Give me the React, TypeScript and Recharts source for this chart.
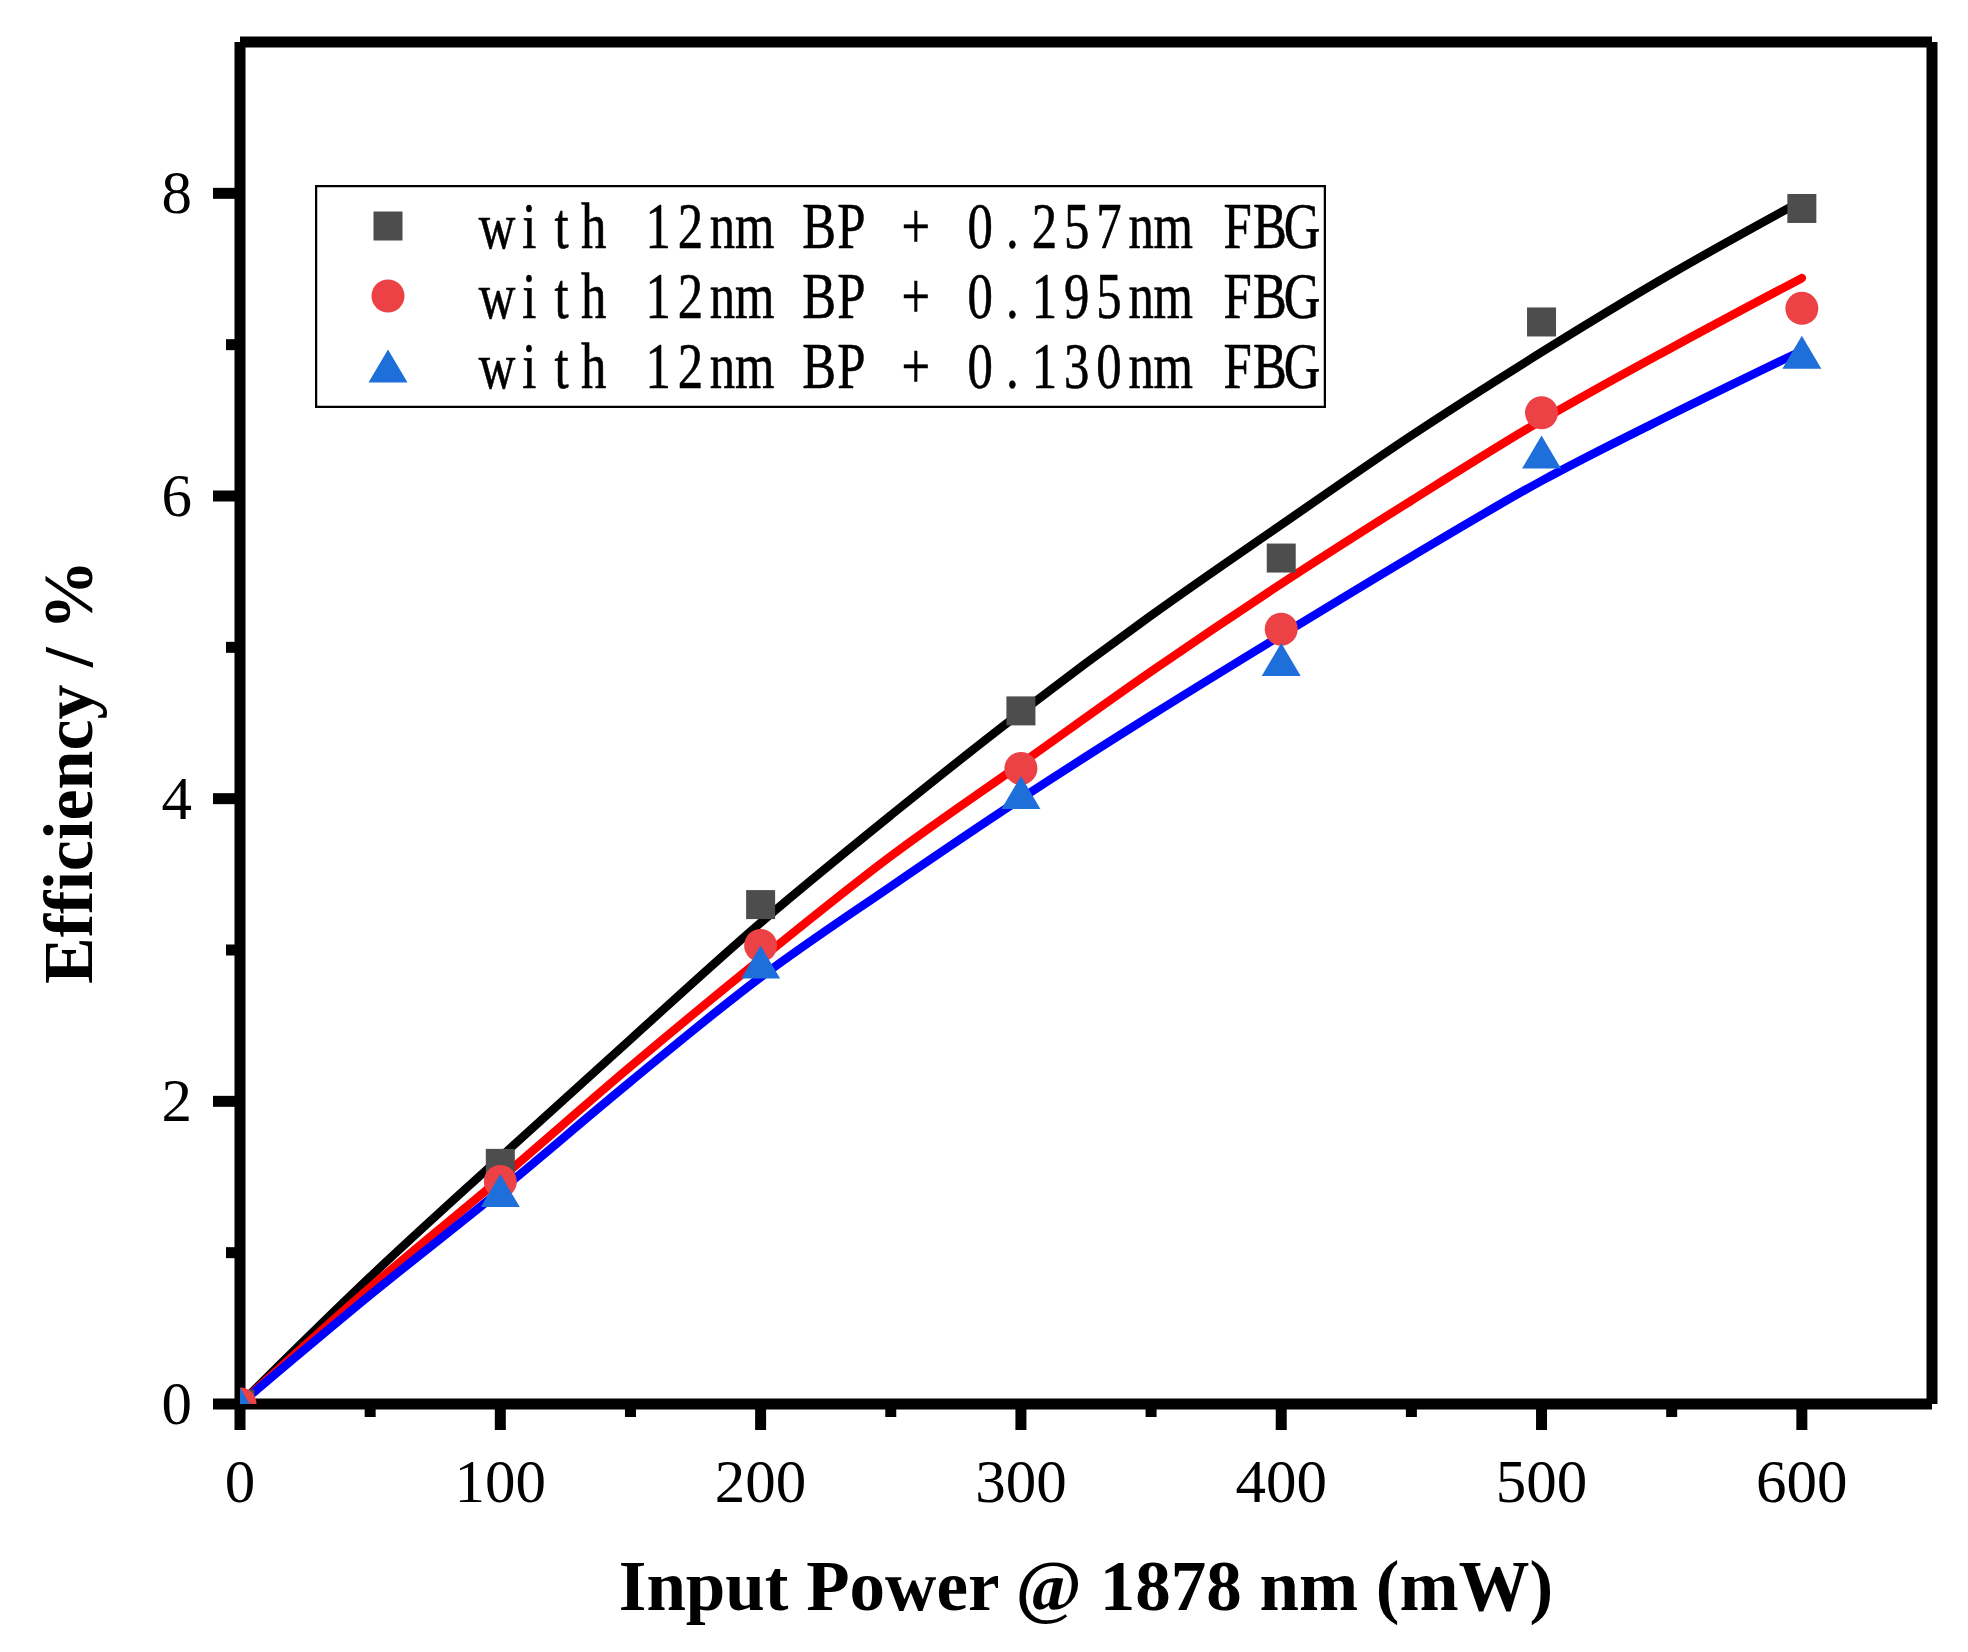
import React from "react";
import { ComposedChart, Line, XAxis, YAxis, Legend } from "recharts";

// measured points
const POWER = [0, 100, 200, 300, 400, 500, 600];
const EFF_257 = [0, 1.59, 3.3, 4.58, 5.59, 7.15, 7.9];
const EFF_195 = [0, 1.47, 3.03, 4.2, 5.12, 6.55, 7.24];
const EFF_130 = [0, 1.41, 2.92, 4.04, 4.92, 6.29, 6.95];

// fitted curves
const FIT_POWER = [0, 50, 100, 150, 200, 250, 300, 350, 400, 450, 500, 550, 600];
const FIT_257 = [0, 0.84, 1.63, 2.41, 3.18, 3.89, 4.57, 5.21, 5.81, 6.4, 6.95, 7.47, 7.95];
const FIT_195 = [0, 0.77, 1.49, 2.23, 2.94, 3.62, 4.23, 4.84, 5.42, 5.97, 6.5, 6.98, 7.44];
const FIT_130 = [0, 0.72, 1.41, 2.13, 2.82, 3.42, 4.0, 4.55, 5.08, 5.6, 6.1, 6.54, 6.96];

const X_TICKS = [0, 50, 100, 150, 200, 250, 300, 350, 400, 450, 500, 550, 600];
const Y_TICKS = [0, 1, 2, 3, 4, 5, 6, 7, 8];

const LEGEND_LABELS = [
  "with 12nm BP + 0.257nm FBG",
  "with 12nm BP + 0.195nm FBG",
  "with 12nm BP + 0.130nm FBG",
];

const SERIF = "'Liberation Serif', 'Times New Roman', serif";
const AXIS_W = 11;
const FIT_W = 8.5;

const COLORS = {
  square: "#4d4d4d",
  circle: "#ec4145",
  triangle: "#1e6fd9",
  fit257: "#000000",
  fit195: "#ff0000",
  fit130: "#0000ff",
};

const toPoints = (xs: number[], ys: number[]) => xs.map((x, i) => ({ x, y: ys[i] }));

function SquareDot(props: any) {
  const { cx, cy } = props;
  if (cx == null || cy == null) return null;
  return <rect x={cx - 14.5} y={cy - 14.5} width={29} height={29} fill={COLORS.square} />;
}

function CircleDot(props: any) {
  const { cx, cy } = props;
  if (cx == null || cy == null) return null;
  return <circle cx={cx} cy={cy} r={16.5} fill={COLORS.circle} />;
}

function TriangleDot(props: any) {
  const { cx, cy } = props;
  if (cx == null || cy == null) return null;
  const h = 33;
  const w = 39;
  return (
    <polygon
      points={`${cx},${cy - h / 2} ${cx - w / 2},${cy + h / 2} ${cx + w / 2},${cy + h / 2}`}
      fill={COLORS.triangle}
    />
  );
}

function XTick(props: any) {
  const { x, y, payload } = props;
  const major = payload.value % 100 === 0;
  return (
    <g>
      <line x1={x} x2={x} y1={y} y2={y + (major ? 26 : 13)} stroke="#000" strokeWidth={AXIS_W} />
      {major && (
        <text x={x} y={y + 98} textAnchor="middle" fontFamily={SERIF} fontSize={61} fill="#000">
          {payload.value}
        </text>
      )}
    </g>
  );
}

function YTick(props: any) {
  const { x, y, payload } = props;
  const major = payload.value % 2 === 0;
  return (
    <g>
      <line x1={x} x2={x - (major ? 27 : 14)} y1={y} y2={y} stroke="#000" strokeWidth={AXIS_W} />
      {major && (
        <text x={x - 48} y={y + 20} textAnchor="end" fontFamily={SERIF} fontSize={61} fill="#000">
          {payload.value}
        </text>
      )}
    </g>
  );
}

function XTitle() {
  return (
    <text x={1078} y={1602} textAnchor="middle" fontFamily={SERIF} fontWeight="bold" fontSize={71} fill="#000">
      Input Power @ 1878 nm (mW)
    </text>
  );
}

function YTitle() {
  return (
    <text
      x={84}
      y={764}
      transform="rotate(-90, 84, 764)"
      textAnchor="middle"
      fontFamily={SERIF}
      fontWeight="bold"
      fontSize={70}
      fill="#000"
    >
      Efficiency / %
    </text>
  );
}

function LegendBox() {
  const pitch = 32.2;
  const sx = 0.78;
  const rows = [41, 111, 181];
  const markers = [
    <rect key="s" x={73 - 14.5} y={rows[0] - 14.5} width={29} height={29} fill={COLORS.square} />,
    <circle key="c" cx={73} cy={rows[1]} r={16.5} fill={COLORS.circle} />,
    <polygon
      key="t"
      points={`73,${rows[2] - 16.5} ${73 - 19.5},${rows[2] + 16.5} ${73 + 19.5},${rows[2] + 16.5}`}
      fill={COLORS.triangle}
    />,
  ];
  return (
    <svg width={1011} height={223} style={{ display: "block" }}>
      <rect x={1} y={1} width={1009} height={221} fill="#fff" stroke="#000" strokeWidth={2.5} />
      {markers}
      {LEGEND_LABELS.map((label, r) => (
        <g key={label} transform={`translate(166, ${rows[r] + 22}) scale(${sx}, 1)`}>
          <text
            x={label.split("").map((_, i) => ((i + 0.5) * pitch) / sx).join(" ")}
            y={0}
            textAnchor="middle"
            fontFamily={SERIF}
            fontSize={65}
            fill="#000"
            stroke="#000"
            strokeWidth={0.6}
          >
            {label}
          </text>
        </g>
      ))}
    </svg>
  );
}

export default function App() {
  return (
    <div style={{ width: 1952, height: 1636, background: "#fff" }}>
      <ComposedChart
        width={1952}
        height={1636}
        margin={{ top: 33, right: 27, bottom: 0, left: 0 }}
      >
        <XAxis
          xAxisId={0}
          type="number"
          dataKey="x"
          domain={[0, 650]}
          ticks={X_TICKS}
          interval={0}
          allowDataOverflow
          height={240}
          tickSize={0}
          tickMargin={0}
          tickLine={false}
          tick={<XTick />}
          axisLine={{ stroke: "#000", strokeWidth: AXIS_W }}
          label={<XTitle />}
        />
        <XAxis
          xAxisId="frame"
          orientation="top"
          type="number"
          dataKey="x"
          domain={[0, 650]}
          height={1}
          tick={false}
          tickLine={false}
          axisLine={{ stroke: "#000", strokeWidth: AXIS_W }}
        />
        <YAxis
          yAxisId={0}
          type="number"
          dataKey="y"
          domain={[0, 9]}
          ticks={Y_TICKS}
          interval={0}
          allowDataOverflow
          width={232}
          tickSize={0}
          tickMargin={0}
          tickLine={false}
          tick={<YTick />}
          axisLine={{ stroke: "#000", strokeWidth: AXIS_W }}
          label={<YTitle />}
        />
        <YAxis
          yAxisId="frame"
          orientation="right"
          type="number"
          dataKey="y"
          domain={[0, 9]}
          width={1}
          tick={false}
          tickLine={false}
          axisLine={{ stroke: "#000", strokeWidth: AXIS_W }}
        />
        <Legend
          layout="horizontal"
          verticalAlign="middle"
          align="center"
          content={() => <LegendBox />}
          wrapperStyle={{ position: "absolute", left: 307, top: 177, width: 1011, height: 223 }}
        />
        {/* measured points: markers only, drawn first so the fits sit on top */}
        <Line
          name={LEGEND_LABELS[0]}
          data={toPoints(POWER, EFF_257)}
          dataKey="y"
          stroke="none"
          dot={<SquareDot />}
          activeDot={false}
          isAnimationActive={false}
        />
        <Line
          name={LEGEND_LABELS[1]}
          data={toPoints(POWER, EFF_195)}
          dataKey="y"
          stroke="none"
          dot={<CircleDot />}
          activeDot={false}
          isAnimationActive={false}
        />
        <Line
          name={LEGEND_LABELS[2]}
          data={toPoints(POWER, EFF_130)}
          dataKey="y"
          stroke="none"
          dot={<TriangleDot />}
          activeDot={false}
          isAnimationActive={false}
        />
        {/* fitted curves */}
        <Line
          data={toPoints(FIT_POWER, FIT_257)}
          dataKey="y"
          type="monotone"
          stroke={COLORS.fit257}
          strokeWidth={FIT_W}
          strokeLinecap="round"
          dot={false}
          activeDot={false}
          legendType="none"
          isAnimationActive={false}
        />
        <Line
          data={toPoints(FIT_POWER, FIT_195)}
          dataKey="y"
          type="monotone"
          stroke={COLORS.fit195}
          strokeWidth={FIT_W}
          strokeLinecap="round"
          dot={false}
          activeDot={false}
          legendType="none"
          isAnimationActive={false}
        />
        <Line
          data={toPoints(FIT_POWER, FIT_130)}
          dataKey="y"
          type="monotone"
          stroke={COLORS.fit130}
          strokeWidth={FIT_W}
          strokeLinecap="round"
          dot={false}
          activeDot={false}
          legendType="none"
          isAnimationActive={false}
        />
      </ComposedChart>
    </div>
  );
}
